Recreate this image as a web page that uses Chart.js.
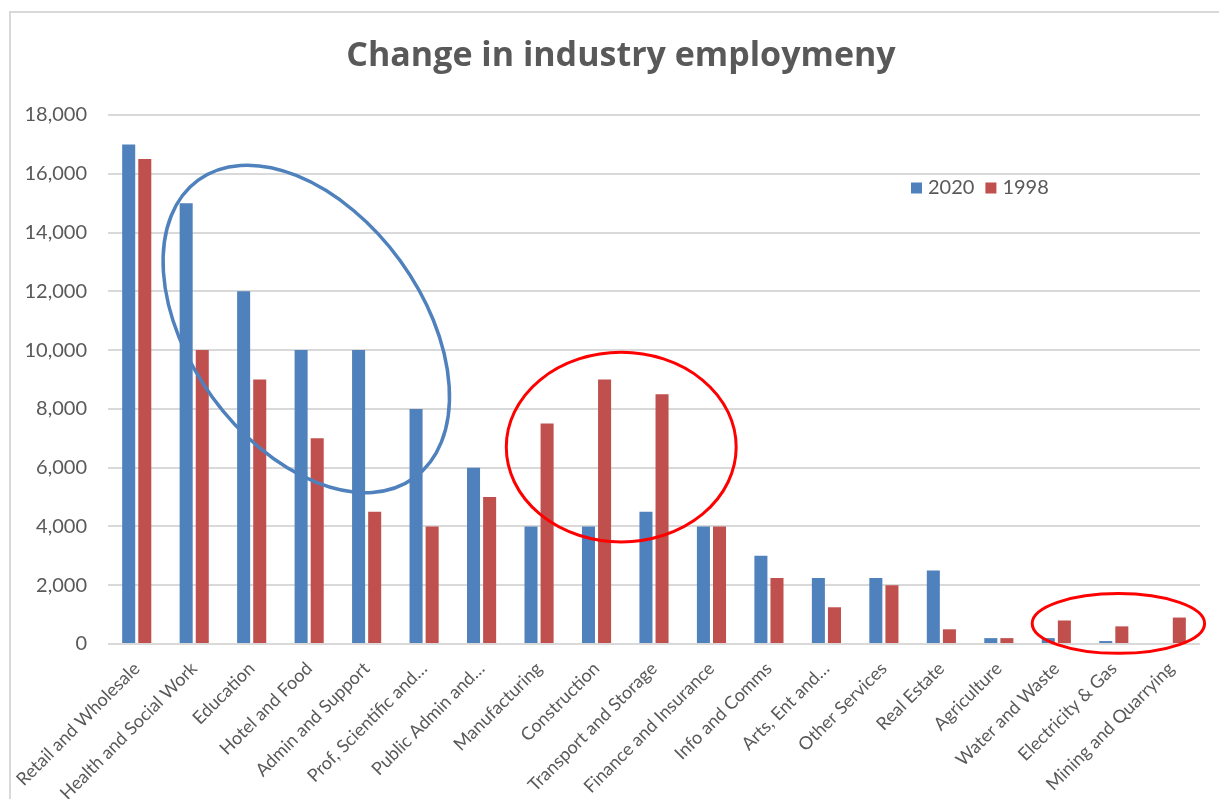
<!DOCTYPE html>
<html>
<head>
<meta charset="utf-8">
<title>Change in industry employment</title>
<script src="https://cdn.jsdelivr.net/npm/chart.js@4.4.1/dist/chart.umd.min.js"></script>
<style>
  body { margin: 0; background: #fff; overflow: hidden; }
  #wrap { position: relative; width: 1219px; height: 799px; }
  #frame { position: absolute; left: 9px; top: 11px; width: 1230px; height: 820px; border: 2px solid #d9d9d9; box-sizing: border-box; }
  canvas { position: absolute; left: 0; top: 0; }
</style>
</head>
<body>
<div id="wrap">
  <div id="frame"></div>
  <canvas id="industry" width="1219" height="799"></canvas>
</div>
<script>
const industries = ['Retail and Wholesale', 'Health and Social Work', 'Education', 'Hotel and Food', 'Admin and Support',
  'Prof, Scientific and…', 'Public Admin and…', 'Manufacturing', 'Construction', 'Transport and Storage',
  'Finance and Insurance', 'Info and Comms', 'Arts, Ent and…', 'Other Services', 'Real Estate', 'Agriculture',
  'Water and Waste', 'Electricity & Gas', 'Mining and Quarrying'];
const jobs2020 = [17000, 15000, 12000, 10000, 10000, 8000, 6000, 4000, 4000, 4500, 4000, 3000, 2250, 2250, 2500, 200, 200, 100, 0];
const jobs1998 = [16500, 10000, 9000, 7000, 4500, 4000, 5000, 7500, 9000, 8500, 4000, 2250, 1250, 2000, 500, 200, 800, 600, 900];

const grey = '#595959';

// title centred on the outer frame rather than on the plot area
const frameTitle = {
  id: 'frameTitle',
  afterDraw(chart, args, opts) {
    const ctx = chart.ctx;
    ctx.save();
    ctx.font = opts.font;
    ctx.fillStyle = grey;
    ctx.textAlign = 'center';
    ctx.textBaseline = 'alphabetic';
    ctx.fillText(opts.text, opts.x, opts.y);
    ctx.restore();
  }
};

// little legend sitting inside the plot, top right
const floatLegend = {
  id: 'floatLegend',
  afterDraw(chart, args, opts) {
    const ctx = chart.ctx;
    ctx.save();
    ctx.font = opts.font;
    ctx.textBaseline = 'middle';
    let x = opts.x;
    chart.data.datasets.forEach(ds => {
      ctx.fillStyle = ds.backgroundColor;
      ctx.fillRect(x, opts.y - opts.box / 2, opts.box, opts.box);
      x += opts.box + 6;
      ctx.fillStyle = grey;
      ctx.fillText(ds.label, x, opts.y);
      x += ctx.measureText(ds.label).width + 11;
    });
    ctx.restore();
  }
};

// hand-drawn style rings around groups of bars (centre in category index / value)
const rings = {
  id: 'rings',
  afterDatasetsDraw(chart, args, opts) {
    const { ctx, scales: { x, y } } = chart;
    const step = x.getPixelForValue(1) - x.getPixelForValue(0);
    opts.items.forEach(r => {
      ctx.save();
      ctx.beginPath();
      ctx.ellipse(x.getPixelForValue(r.at), y.getPixelForValue(r.value), r.rx * step, r.ry * step,
        r.angle * Math.PI / 180, 0, 2 * Math.PI);
      ctx.lineWidth = r.width;
      ctx.strokeStyle = r.color;
      ctx.stroke();
      ctx.restore();
    });
  }
};

new Chart(document.getElementById('industry'), {
  type: 'bar',
  data: {
    labels: industries,
    datasets: [
      { label: '2020', data: jobs2020, backgroundColor: '#4F81BD' },
      { label: '1998', data: jobs1998, backgroundColor: '#C0504D' }
    ]
  },
  options: {
    responsive: false,
    animation: false,
    categoryPercentage: 0.56,
    barPercentage: 0.81,
    layout: { padding: { left: 20, right: 19, top: 115, bottom: 0 } },
    scales: {
      x: {
        grid: { display: false },
        border: { display: false },
        ticks: {
          color: grey,
          font: { family: 'Lato', size: 18 },
          minRotation: 45,
          maxRotation: 45,
          padding: 6,
          autoSkip: false
        },
        afterFit(scale) { scale.height = 155; }
      },
      y: {
        min: 0,
        max: 18000,
        border: { display: false },
        grid: { color: '#d9d9d9', lineWidth: 2, drawTicks: false },
        ticks: {
          stepSize: 2000,
          color: grey,
          padding: 21,
          font: { family: 'Lato', size: 20 }
        },
        afterFit(scale) { scale.width = 88; }
      }
    },
    plugins: {
      legend: { display: false },
      tooltip: { enabled: false },
      frameTitle: { text: 'Change in industry employmeny', x: 621, y: 66, font: 'bold 34px "Open Sans"' },
      floatLegend: { x: 911, y: 188, box: 11, font: '20px Lato' },
      rings: {
        items: [
          { at: 2.95, value: 10720, rx: 3.2, ry: 2.02, angle: 54, color: '#4F81BD', width: 3.5 },
          { at: 8.43, value: 6700, rx: 2.0, ry: 1.65, angle: 0, color: '#FF0000', width: 3 },
          { at: 17.08, value: 700, rx: 1.5, ry: 0.52, angle: 0, color: '#FF0000', width: 3 }
        ]
      }
    }
  },
  plugins: [frameTitle, floatLegend, rings]
});
</script>
</body>
</html>
